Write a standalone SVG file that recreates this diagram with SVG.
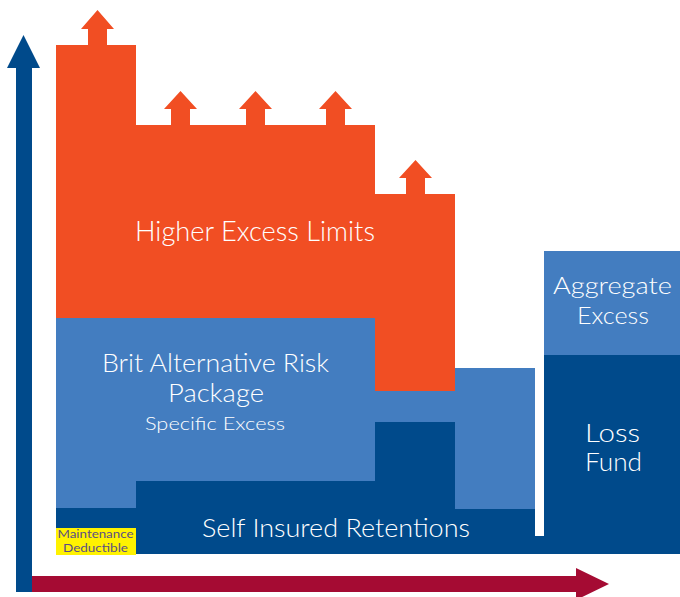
<svg xmlns="http://www.w3.org/2000/svg" width="680" height="597" viewBox="0 0 680 597">
<style>
.or{fill:#F14E23}
.lb{fill:#437DC0}
.db{fill:#004A8B}
.t{font-family:Lato,"Noto Sans","Liberation Sans",sans-serif;font-weight:300;fill:#ffffff;text-anchor:middle}
.md{font-family:Lato,"Noto Sans","Liberation Sans",sans-serif;fill:#5A4E86;text-anchor:middle;font-size:12px}
</style>
<rect width="680" height="597" fill="#ffffff"/>
<g id="higher-excess-limits">
<polygon class="or" points="56,45 88,45 88,29 81,29 97.5,10 114,29 107,29 107,45 136,45 136,125 171,125 171,109 164,109 180.5,91 197,109 190,109 190,125 246,125 246,109 239,109 255.5,91 272,109 265,109 265,125 326,125 326,109 319,109 335.5,91 352,109 345,109 345,125 375,125 375,194 406,194 406,178 399,178 415.5,160 432,178 425,178 425,194 455,194 455,391 375,391 375,318 56,318"/>
<text class="t" x="255" y="241" font-size="27" textLength="240" lengthAdjust="spacingAndGlyphs">Higher Excess Limits</text>
</g>
<g id="brit-package">
<polygon class="lb" points="56,318 375,318 375,391 455,391 455,368 535,368 535,509 455,509 455,422 375,422 375,481 136,481 136,508 56,508"/>
<text class="t" x="215.5" y="372" font-size="25" textLength="227" lengthAdjust="spacingAndGlyphs">Brit Alternative Risk</text>
<text class="t" x="216" y="402" font-size="25" textLength="96" lengthAdjust="spacingAndGlyphs">Package</text>
<text class="t" x="215" y="430" font-size="18" textLength="140" lengthAdjust="spacingAndGlyphs">Specific Excess</text>
</g>
<g id="self-insured-retentions">
<polygon class="db" points="56,508 136,508 136,481 375,481 375,422 455,422 455,509 535,509 535,536 545,536 545,554 56,554"/>
<text class="t" x="336" y="537" font-size="26" textLength="268" lengthAdjust="spacingAndGlyphs">Self Insured Retentions</text>
</g>
<g id="maintenance-deductible">
<rect x="56" y="528" width="80" height="27" fill="#FFF200"/>
<text class="md" x="95.5" y="538" textLength="76" lengthAdjust="spacingAndGlyphs">Maintenance</text>
<text class="md" x="95.5" y="552" textLength="65" lengthAdjust="spacingAndGlyphs">Deductible</text>
</g>
<g id="aggregate-excess">
<rect class="lb" x="544" y="251" width="136" height="104"/>
<text class="t" x="612.5" y="294" font-size="24" textLength="119" lengthAdjust="spacingAndGlyphs">Aggregate</text>
<text class="t" x="613" y="324" font-size="24" textLength="72" lengthAdjust="spacingAndGlyphs">Excess</text>
</g>
<g id="loss-fund">
<rect class="db" x="544" y="355" width="136" height="199"/>
<text class="t" x="612.5" y="442" font-size="26" textLength="55" lengthAdjust="spacingAndGlyphs">Loss</text>
<text class="t" x="613.5" y="471" font-size="26" textLength="57" lengthAdjust="spacingAndGlyphs">Fund</text>
</g>
<g id="connectors">
<polygon fill="#004A8B" points="16,592 16,68 7,68 23.5,35 40,68 32,68 32,592"/>
<polygon fill="#A50B33" points="32,576 576,576 576,568 609,584 576,600 576,592 32,592"/>
</g>
</svg>
